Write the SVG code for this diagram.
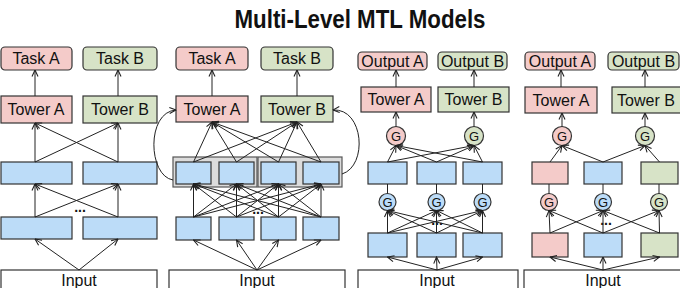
<svg xmlns="http://www.w3.org/2000/svg" width="680" height="288" viewBox="0 0 680 288">
<style>
text{font-family:"Liberation Sans",Arial,sans-serif;fill:#111;text-anchor:middle}
.t{font-size:16px}
.title{font-size:25px;font-weight:bold}
.pk{fill:#f4cbc9;stroke:#333;stroke-width:1.2}
.gr{fill:#d7e3c7;stroke:#333;stroke-width:1.2}
.bl{fill:#bcdcf8;stroke:#333;stroke-width:1.2}
.in{fill:#fff;stroke:#333;stroke-width:1.2}
.cs{fill:#dcdcdc;stroke:#555;stroke-width:1.2}
.c line,.c path{stroke:#222;stroke-width:1;fill:none}
.a{marker-end:url(#ah)}
.dots{font-size:14px;font-weight:bold}
</style>
<defs>
<marker id="ah" viewBox="0 0 8 8" refX="7.5" refY="4" markerWidth="8" markerHeight="8" markerUnits="userSpaceOnUse" orient="auto">
<path d="M1,1 L7.5,4 L1,7" fill="none" stroke="#222" stroke-width="1.1"/>
</marker>
</defs>

<text class="title" x="360" y="28" textLength="251" lengthAdjust="spacingAndGlyphs">Multi-Level MTL Models</text>

<!-- Panel 1 -->
<g id="p1-taskA"><rect class="pk" x="1" y="47" width="71" height="23" rx="4"/><text class="t" x="36" y="64">Task A</text></g>
<g id="p1-taskB"><rect class="gr" x="83" y="47" width="74" height="23" rx="4"/><text class="t" x="120" y="64">Task B</text></g>
<g id="p1-towerA"><rect class="pk" x="1" y="96" width="71" height="27"/><text class="t" x="36" y="115">Tower A</text></g>
<g id="p1-towerB"><rect class="gr" x="83" y="96" width="74" height="27"/><text class="t" x="120" y="115">Tower B</text></g>
<g id="p1-top1"><rect class="bl" x="1" y="162" width="71" height="22"/></g>
<g id="p1-top2"><rect class="bl" x="83" y="162" width="74" height="22"/></g>
<g id="p1-bot1"><rect class="bl" x="1" y="217" width="71" height="22"/></g>
<g id="p1-bot2"><rect class="bl" x="83" y="217" width="74" height="22"/></g>
<g id="p1-input"><rect class="in" x="1" y="270" width="156" height="30"/><text class="t" x="79" y="286">Input</text></g>
<text class="dots" x="80" y="212">...</text>

<!-- Panel 2 -->
<g id="p2-taskA"><rect class="pk" x="176" y="47" width="72" height="23" rx="4"/><text class="t" x="212" y="64">Task A</text></g>
<g id="p2-taskB"><rect class="gr" x="261" y="47" width="72" height="23" rx="4"/><text class="t" x="297" y="64">Task B</text></g>
<g id="p2-towerA"><rect class="pk" x="176" y="96" width="72" height="26"/><text class="t" x="212" y="115">Tower A</text></g>
<g id="p2-towerB"><rect class="gr" x="261" y="96" width="72" height="26"/><text class="t" x="297" y="115">Tower B</text></g>
<g id="p2-cs1"><rect class="cs" x="173" y="157" width="84" height="30"/></g>
<g id="p2-cs2"><rect class="cs" x="258" y="157" width="84" height="30"/></g>
<g id="p2-top1"><rect class="bl" x="176" y="162" width="35" height="22"/></g>
<g id="p2-top2"><rect class="bl" x="219" y="162" width="35" height="22"/></g>
<g id="p2-top3"><rect class="bl" x="261" y="162" width="35" height="22"/></g>
<g id="p2-top4"><rect class="bl" x="303" y="162" width="36" height="22"/></g>
<g id="p2-bot1"><rect class="bl" x="176" y="217" width="35" height="23"/></g>
<g id="p2-bot2"><rect class="bl" x="219" y="217" width="35" height="23"/></g>
<g id="p2-bot3"><rect class="bl" x="261" y="217" width="35" height="23"/></g>
<g id="p2-bot4"><rect class="bl" x="303" y="217" width="36" height="23"/></g>
<g id="p2-input"><rect class="in" x="169" y="270" width="176" height="30"/><text class="t" x="257" y="286">Input</text></g>
<text class="dots" x="258" y="214">...</text>

<!-- Panel 3 -->
<g id="p3-outA"><rect class="pk" x="358" y="52" width="69" height="18" rx="4"/><text class="t" x="392.5" y="67">Output A</text></g>
<g id="p3-outB"><rect class="gr" x="438" y="52" width="69" height="18" rx="4"/><text class="t" x="472.5" y="67">Output B</text></g>
<g id="p3-towerA"><rect class="pk" x="361" y="87" width="70" height="25"/><text class="t" x="396" y="105">Tower A</text></g>
<g id="p3-towerB"><rect class="gr" x="438" y="87" width="71" height="25"/><text class="t" x="473.5" y="105">Tower B</text></g>
<g id="p3-gA"><circle class="pk" cx="396" cy="136" r="9.5"/><text x="396" y="141" font-size="13">G</text></g>
<g id="p3-gB"><circle class="gr" cx="474" cy="136" r="9.5"/><text x="474" y="141" font-size="13">G</text></g>
<g id="p3-top1"><rect class="bl" x="368" y="162" width="39" height="22"/></g>
<g id="p3-top2"><rect class="bl" x="417" y="162" width="39" height="22"/></g>
<g id="p3-top3"><rect class="bl" x="463" y="162" width="39" height="22"/></g>
<g id="p3-g1"><circle class="bl" cx="387.5" cy="202" r="8.5"/><text x="387.5" y="207" font-size="13">G</text></g>
<g id="p3-g2"><circle class="bl" cx="436.5" cy="202" r="8.5"/><text x="436.5" y="207" font-size="13">G</text></g>
<g id="p3-g3"><circle class="bl" cx="482.5" cy="202" r="8.5"/><text x="482.5" y="207" font-size="13">G</text></g>
<g id="p3-bot1"><rect class="bl" x="368" y="233" width="39" height="24"/></g>
<g id="p3-bot2"><rect class="bl" x="417" y="233" width="39" height="24"/></g>
<g id="p3-bot3"><rect class="bl" x="463" y="233" width="39" height="24"/></g>
<g id="p3-input"><rect class="in" x="358" y="270" width="160" height="30"/><text class="t" x="437" y="286">Input</text></g>
<text class="dots" x="437" y="225">...</text>

<!-- Panel 4 -->
<g id="p4-outA"><rect class="pk" x="525" y="52" width="70" height="18" rx="4"/><text class="t" x="560" y="67">Output A</text></g>
<g id="p4-outB"><rect class="gr" x="608" y="52" width="71" height="18" rx="4"/><text class="t" x="643.5" y="67">Output B</text></g>
<g id="p4-towerA"><rect class="pk" x="525" y="87" width="72" height="26"/><text class="t" x="561" y="106">Tower A</text></g>
<g id="p4-towerB"><rect class="gr" x="612" y="87" width="70" height="26"/><text class="t" x="646" y="106">Tower B</text></g>
<g id="p4-gA"><circle class="pk" cx="562" cy="136" r="9.5"/><text x="562" y="141" font-size="13">G</text></g>
<g id="p4-gB"><circle class="gr" cx="645" cy="136" r="9.5"/><text x="645" y="141" font-size="13">G</text></g>
<g id="p4-top1"><rect class="pk" x="532" y="162" width="36" height="22"/></g>
<g id="p4-top2"><rect class="bl" x="584" y="162" width="38" height="22"/></g>
<g id="p4-top3"><rect class="gr" x="641" y="162" width="37" height="22"/></g>
<g id="p4-g1"><circle class="pk" cx="549" cy="202" r="8.5"/><text x="549" y="207" font-size="13">G</text></g>
<g id="p4-g2"><circle class="bl" cx="603" cy="202" r="8.5"/><text x="603" y="207" font-size="13">G</text></g>
<g id="p4-g3"><circle class="gr" cx="659" cy="202" r="8.5"/><text x="659" y="207" font-size="13">G</text></g>
<g id="p4-bot1"><rect class="pk" x="532" y="233" width="36" height="24"/></g>
<g id="p4-bot2"><rect class="bl" x="584" y="233" width="38" height="24"/></g>
<g id="p4-bot3"><rect class="gr" x="641" y="233" width="37" height="24"/></g>
<g id="p4-input"><rect class="in" x="524" y="270" width="160" height="30"/><text class="t" x="603" y="286">Input</text></g>
<text class="dots" x="606" y="225">...</text>

<g id="connectors" class="c">
<!-- panel 1 -->
<line class="a" x1="35" y1="96" x2="35" y2="70"/>
<line class="a" x1="118" y1="96" x2="118" y2="70"/>
<line class="a" x1="35" y1="162" x2="35" y2="123"/>
<line class="a" x1="35" y1="162" x2="118" y2="123"/>
<line class="a" x1="118" y1="162" x2="118" y2="123"/>
<line class="a" x1="118" y1="162" x2="35" y2="123"/>
<line class="a" x1="35" y1="217" x2="35" y2="184"/>
<line class="a" x1="35" y1="217" x2="118" y2="184"/>
<line class="a" x1="118" y1="217" x2="118" y2="184"/>
<line class="a" x1="118" y1="217" x2="35" y2="184"/>
<line class="a" x1="79" y1="270" x2="35" y2="239"/>
<line class="a" x1="79" y1="270" x2="118" y2="239"/>
<!-- panel 2 -->
<line class="a" x1="212" y1="96" x2="212" y2="70"/>
<line class="a" x1="297" y1="96" x2="297" y2="70"/>
<line class="a" x1="193.5" y1="162" x2="212" y2="122"/>
<line class="a" x1="236.5" y1="162" x2="212" y2="122"/>
<line class="a" x1="278.5" y1="162" x2="212" y2="122"/>
<line class="a" x1="321" y1="162" x2="212" y2="122"/>
<line class="a" x1="193.5" y1="162" x2="297" y2="122"/>
<line class="a" x1="236.5" y1="162" x2="297" y2="122"/>
<line class="a" x1="278.5" y1="162" x2="297" y2="122"/>
<line class="a" x1="321" y1="162" x2="297" y2="122"/>
<line class="a" x1="193.5" y1="217" x2="193.5" y2="184"/>
<line class="a" x1="193.5" y1="217" x2="236.5" y2="184"/>
<line class="a" x1="193.5" y1="217" x2="278.5" y2="184"/>
<line class="a" x1="193.5" y1="217" x2="321" y2="184"/>
<line class="a" x1="236.5" y1="217" x2="193.5" y2="184"/>
<line class="a" x1="236.5" y1="217" x2="236.5" y2="184"/>
<line class="a" x1="236.5" y1="217" x2="278.5" y2="184"/>
<line class="a" x1="236.5" y1="217" x2="321" y2="184"/>
<line class="a" x1="278.5" y1="217" x2="193.5" y2="184"/>
<line class="a" x1="278.5" y1="217" x2="236.5" y2="184"/>
<line class="a" x1="278.5" y1="217" x2="278.5" y2="184"/>
<line class="a" x1="278.5" y1="217" x2="321" y2="184"/>
<line class="a" x1="321" y1="217" x2="193.5" y2="184"/>
<line class="a" x1="321" y1="217" x2="236.5" y2="184"/>
<line class="a" x1="321" y1="217" x2="278.5" y2="184"/>
<line class="a" x1="321" y1="217" x2="321" y2="184"/>
<line class="a" x1="257" y1="270" x2="193.5" y2="240"/>
<line class="a" x1="257" y1="270" x2="236.5" y2="240"/>
<line class="a" x1="257" y1="270" x2="278.5" y2="240"/>
<line class="a" x1="257" y1="270" x2="321" y2="240"/>
<path class="a" d="M173,180 C148,176 146,112 176,110"/>
<path class="a" d="M342,174 C368,166 364,108 333,110"/>
<!-- panel 3 -->
<line class="a" x1="396" y1="87" x2="396" y2="70"/>
<line class="a" x1="474" y1="87" x2="474" y2="70"/>
<line class="a" x1="396" y1="126.5" x2="396" y2="112"/>
<line class="a" x1="474" y1="126.5" x2="474" y2="112"/>
<line class="a" x1="387.5" y1="162" x2="396" y2="145.5"/>
<line class="a" x1="436.5" y1="162" x2="396" y2="145.5"/>
<line class="a" x1="482.5" y1="162" x2="396" y2="145.5"/>
<line class="a" x1="387.5" y1="162" x2="474" y2="145.5"/>
<line class="a" x1="436.5" y1="162" x2="474" y2="145.5"/>
<line class="a" x1="482.5" y1="162" x2="474" y2="145.5"/>
<line x1="387.5" y1="193.5" x2="387.5" y2="184"/>
<line x1="436.5" y1="193.5" x2="436.5" y2="184"/>
<line x1="482.5" y1="193.5" x2="482.5" y2="184"/>
<line class="a" x1="387.5" y1="233" x2="387.5" y2="210.5"/>
<line class="a" x1="387.5" y1="233" x2="436.5" y2="210.5"/>
<line class="a" x1="387.5" y1="233" x2="482.5" y2="210.5"/>
<line class="a" x1="436.5" y1="233" x2="387.5" y2="210.5"/>
<line class="a" x1="436.5" y1="233" x2="436.5" y2="210.5"/>
<line class="a" x1="436.5" y1="233" x2="482.5" y2="210.5"/>
<line class="a" x1="482.5" y1="233" x2="387.5" y2="210.5"/>
<line class="a" x1="482.5" y1="233" x2="436.5" y2="210.5"/>
<line class="a" x1="482.5" y1="233" x2="482.5" y2="210.5"/>
<line class="a" x1="437" y1="270" x2="387.5" y2="257"/>
<line class="a" x1="437" y1="270" x2="436.5" y2="257"/>
<line class="a" x1="437" y1="270" x2="482.5" y2="257"/>
<!-- panel 4 -->
<line class="a" x1="561" y1="87" x2="561" y2="70"/>
<line class="a" x1="645" y1="87" x2="645" y2="70"/>
<line class="a" x1="562" y1="126.5" x2="562" y2="113"/>
<line class="a" x1="645" y1="126.5" x2="645" y2="113"/>
<line class="a" x1="550" y1="162" x2="562" y2="145.5"/>
<line class="a" x1="603" y1="162" x2="562" y2="145.5"/>
<line class="a" x1="603" y1="162" x2="645" y2="145.5"/>
<line class="a" x1="659.5" y1="162" x2="645" y2="145.5"/>
<line x1="549" y1="193.5" x2="549" y2="184"/>
<line x1="603" y1="193.5" x2="603" y2="184"/>
<line x1="659" y1="193.5" x2="659" y2="184"/>
<line class="a" x1="550" y1="233" x2="549" y2="210.5"/>
<line class="a" x1="550" y1="233" x2="603" y2="210.5"/>
<line class="a" x1="603" y1="233" x2="549" y2="210.5"/>
<line class="a" x1="603" y1="233" x2="603" y2="210.5"/>
<line class="a" x1="603" y1="233" x2="659" y2="210.5"/>
<line class="a" x1="659.5" y1="233" x2="659" y2="210.5"/>
<line class="a" x1="659.5" y1="233" x2="603" y2="210.5"/>
<line class="a" x1="603" y1="270" x2="550" y2="257"/>
<line class="a" x1="603" y1="270" x2="603" y2="257"/>
<line class="a" x1="603" y1="270" x2="659.5" y2="257"/>
</g>
</svg>
